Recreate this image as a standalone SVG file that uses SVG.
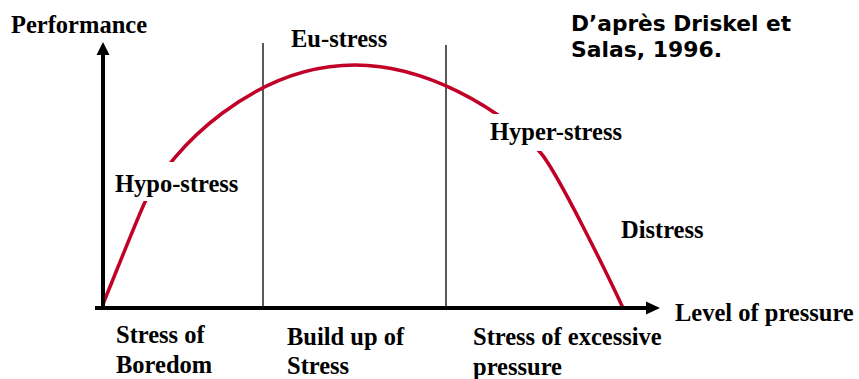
<svg xmlns="http://www.w3.org/2000/svg" width="859" height="379" viewBox="0 0 859 379">
<style>
.lbl{font-family:"Liberation Serif","Times New Roman",serif;font-weight:bold;font-size:24.5px;fill:#000}
.cite{font-family:"DejaVu Sans",Verdana,sans-serif;font-weight:bold;font-size:20.5px;fill:#000}
.axis{stroke:#000;stroke-width:4;fill:none}
.div{stroke:#000;stroke-width:1.3;fill:none}
.curve{stroke:#C00027;stroke-width:3.5;fill:none;stroke-linecap:round}
.bg{fill:#fff}
</style>
<rect width="859" height="379" fill="#fff"/>
<g id="dividers">
<line class="div" x1="263" y1="43" x2="263" y2="308"/>
<line class="div" x1="446" y1="45" x2="446" y2="308"/>
</g>
<g id="curve">
<path class="curve" d="M103,304 C110,287 138.5,215.5 145,202 C170.8,148 255,65 355,65 C425,65 500,107.6 540,152 C556.8,170.5 610.4,280.7 623,308"/>
</g>
<g id="connectors">
<line class="axis" x1="103" y1="52" x2="103" y2="310"/>
<polygon points="103,42 96.5,55 109.5,55" fill="#000"/>
<line class="axis" x1="95" y1="308" x2="648" y2="308"/>
<polygon points="660,308 646,301.5 646,314.5" fill="#000"/>
</g>
<g id="performance"><text class="lbl" x="11" y="33">Performance</text></g>
<g id="level-of-pressure"><text class="lbl" x="675" y="321">Level of pressure</text></g>
<g id="eu-stress"><text class="lbl" x="291" y="47">Eu-stress</text></g>
<g id="hypo-stress"><rect class="bg" x="112" y="162" width="132" height="39"/><text class="lbl" x="115" y="192">Hypo-stress</text></g>
<g id="hyper-stress"><rect class="bg" x="487" y="114" width="140" height="37"/><text class="lbl" x="490" y="140">Hyper-stress</text></g>
<g id="distress"><text class="lbl" x="621" y="238">Distress</text></g>
<g id="stress-of-boredom"><text class="lbl" x="116" y="343">Stress of</text><text class="lbl" x="116" y="373">Boredom</text></g>
<g id="build-up-of-stress"><text class="lbl" x="287" y="345">Build up of</text><text class="lbl" x="287" y="374">Stress</text></g>
<g id="stress-of-excessive-pressure"><text class="lbl" x="473" y="345">Stress of excessive</text><text class="lbl" x="473" y="375">pressure</text></g>
<g id="citation"><text class="cite" x="571" y="31" textLength="220" lengthAdjust="spacingAndGlyphs">D’après Driskel et</text><text class="cite" x="571" y="57" textLength="151" lengthAdjust="spacingAndGlyphs">Salas, 1996.</text></g>
</svg>
